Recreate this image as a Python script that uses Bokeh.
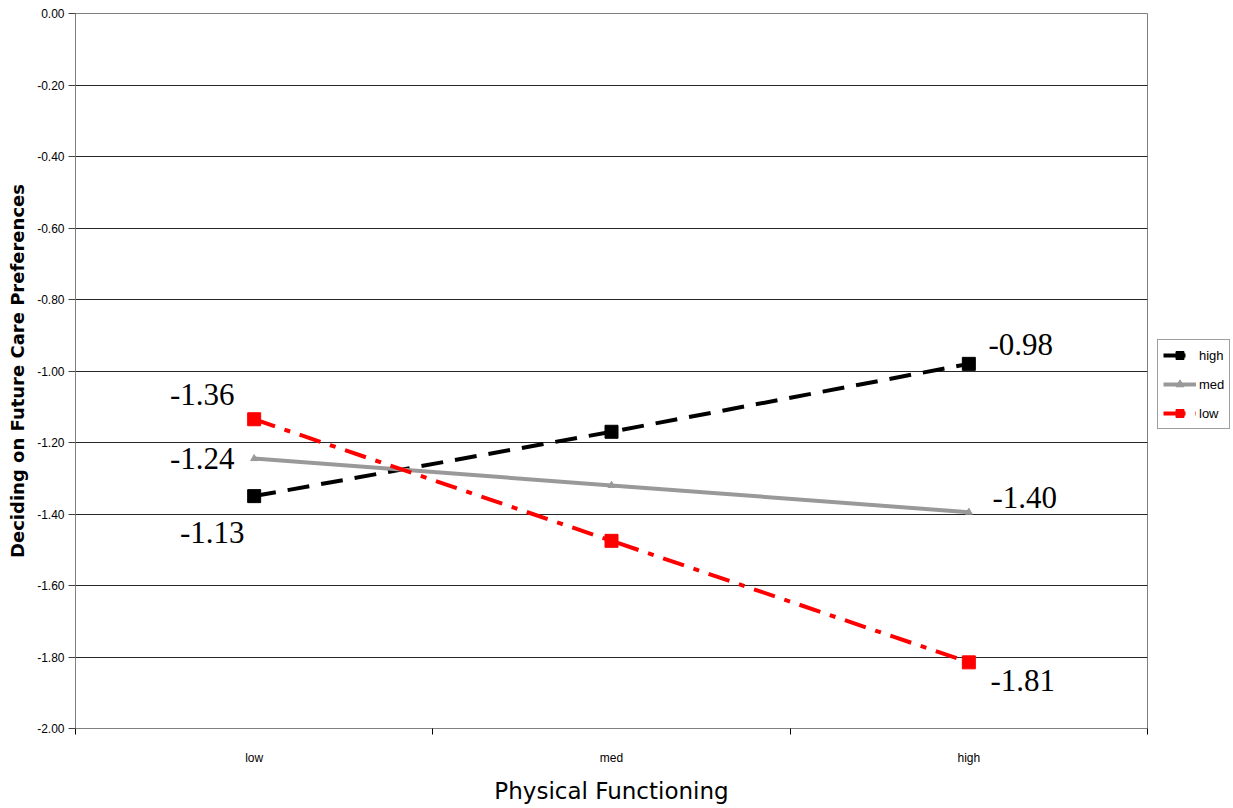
from bokeh.plotting import figure
from bokeh.layouts import row
from bokeh.models import (FixedTicker, Legend, LegendItem, Range1d, ColumnDataSource,
                          CustomJSTickFormatter)
from bokeh.core.properties import value
from bokeh.embed import file_html
from bokeh.resources import INLINE

# ---- data ----
categories = ["low", "med", "high"]
high_vals = [-1.35, -1.17, -0.98]
med_vals = [-1.245, -1.32, -1.395]
low_vals = [-1.135, -1.475, -1.815]
high_labels = ["-1.13", "", "-0.98"]
med_labels = ["-1.24", "", "-1.40"]
low_labels = ["-1.36", "", "-1.81"]
series_names = ["high", "med", "low"]
y_ticks = [0.0, -0.2, -0.4, -0.6, -0.8, -1.0, -1.2, -1.4, -1.6, -1.8, -2.0]

xs = [i + 0.5 for i in range(len(categories))]

p = figure(frame_width=1072, frame_height=715, output_backend="svg", toolbar_location=None,
           x_range=Range1d(0, 3), y_range=Range1d(-2.0, 0.0),
           min_border_left=75, min_border_top=13, min_border_bottom=40,
           min_border_right=2)
p.background_fill_color = "white"
p.border_fill_color = "white"
p.outline_line_color = "#808080"
p.outline_line_width = 1

sans = "Liberation Sans"

# x axis
xa = p.xaxis[0]
xa.ticker = FixedTicker(ticks=xs, minor_ticks=[0, 1, 2, 3])
xa.major_label_overrides = {x: c for x, c in zip(xs, categories)}
xa.major_tick_out = 0
xa.major_tick_in = 0
xa.minor_tick_out = 6
xa.minor_tick_in = 0
xa.minor_tick_line_color = "black"
xa.axis_line_color = "#808080"
xa.axis_line_width = 1
xa.major_label_standoff = 16
xa.major_label_text_font = sans
xa.major_label_text_font_size = "12px"
xa.major_label_text_color = "black"
xa.axis_label = "Physical Functioning"
xa.axis_label_text_font = "DejaVu Sans"
xa.axis_label_text_font_size = "23px"
xa.axis_label_text_font_style = "normal"
xa.axis_label_text_color = "black"
xa.axis_label_standoff = 10

# y axis
ya = p.yaxis[0]
ya.ticker = FixedTicker(ticks=y_ticks, minor_ticks=[])
ya.formatter = CustomJSTickFormatter(code="return tick.toFixed(2);")
ya.major_tick_out = 7
ya.major_tick_in = 0
ya.major_tick_line_color = "#404040"
ya.axis_line_color = "#808080"
ya.axis_line_width = 1
ya.major_label_standoff = 4
ya.major_label_text_font = sans
ya.major_label_text_font_size = "12px"
ya.major_label_text_color = "black"
ya.axis_label = "Deciding on Future Care Preferences"
ya.axis_label_text_font = "DejaVu Sans"
ya.axis_label_text_font_size = "18px"
ya.axis_label_text_font_style = "bold"
ya.axis_label_text_color = "black"
ya.axis_label_standoff = 6

p.xgrid.grid_line_color = None
p.ygrid.grid_line_color = "#000000"
p.ygrid.grid_line_alpha = 0.85
p.ygrid.grid_line_width = 1

src_h = ColumnDataSource(dict(x=xs, y=high_vals, t=high_labels))
src_m = ColumnDataSource(dict(x=xs, y=med_vals, t=med_labels))
src_l = ColumnDataSource(dict(x=xs, y=low_vals, t=low_labels))
sources = [src_h, src_m, src_l]

styles = [
    dict(color="black", dash="22 12", marker="square", size=13),
    dict(color="#999999", dash="solid", marker="triangle", size=7),
    dict(color="#ff0000", dash="22 10 6 10", marker="square", size=13),
]

for src, st in zip(sources, styles):
    p.line("x", "y", source=src, line_color=st["color"], line_width=4, line_dash=st["dash"])
    p.scatter("x", "y", source=src, marker=st["marker"], size=st["size"],
              fill_color=st["color"], line_color=st["color"])

# data labels with pixel offsets
label_font = value("Liberation Serif")
def lab(src, idx, dx, dy):
    s = ColumnDataSource(dict(x=[src.data["x"][idx]], y=[src.data["y"][idx]], t=[src.data["t"][idx]]))
    p.text("x", "y", text="t", source=s, x_offset=dx, y_offset=dy,
           text_font=label_font, text_font_size="31px", text_color="black",
           text_align="center", text_baseline="middle")

lab(src_h, 0, -42, 36)
lab(src_l, 0, -52, -25)
lab(src_m, 0, -52, 0)
lab(src_h, 2, 52, -19)
lab(src_m, 2, 56, -15)
lab(src_l, 2, 54, 18)

# legend in a narrow companion panel to the right of the plot area;
# its proxy renderers reuse the series data, which lies outside this panel's range
p2 = figure(frame_width=84, frame_height=715, output_backend="svg", toolbar_location=None,
            x_range=Range1d(0, 1), y_range=Range1d(0, 1),
            x_axis_location=None, y_axis_location=None,
            min_border=0, min_border_top=13)
p2.outline_line_color = None
p2.xgrid.grid_line_color = None
p2.ygrid.grid_line_color = None
items = []
for name, src, st in zip(series_names, sources, styles):
    r1 = p2.line("x", "y", source=src, line_color=st["color"], line_width=4, line_dash=st["dash"])
    r2 = p2.scatter("x", "y", source=src, marker=st["marker"], size=st["size"],
                    fill_color=st["color"], line_color=st["color"])
    items.append(LegendItem(label=name, renderers=[r1, r2]))

legend = Legend(items=items, location=(8, 299))
legend.label_text_font = sans
legend.label_text_font_size = "13px"
legend.label_text_color = "black"
legend.glyph_width = 33
legend.glyph_height = 20
legend.spacing = 9
legend.padding = 5
legend.margin = 0
legend.label_standoff = 3
legend.border_line_color = "#404040"
legend.border_line_width = 1
legend.background_fill_color = "white"
p2.add_layout(legend)

layout = row(p, p2, spacing=0)
open("out.html", "w").write(file_html(layout, INLINE))
